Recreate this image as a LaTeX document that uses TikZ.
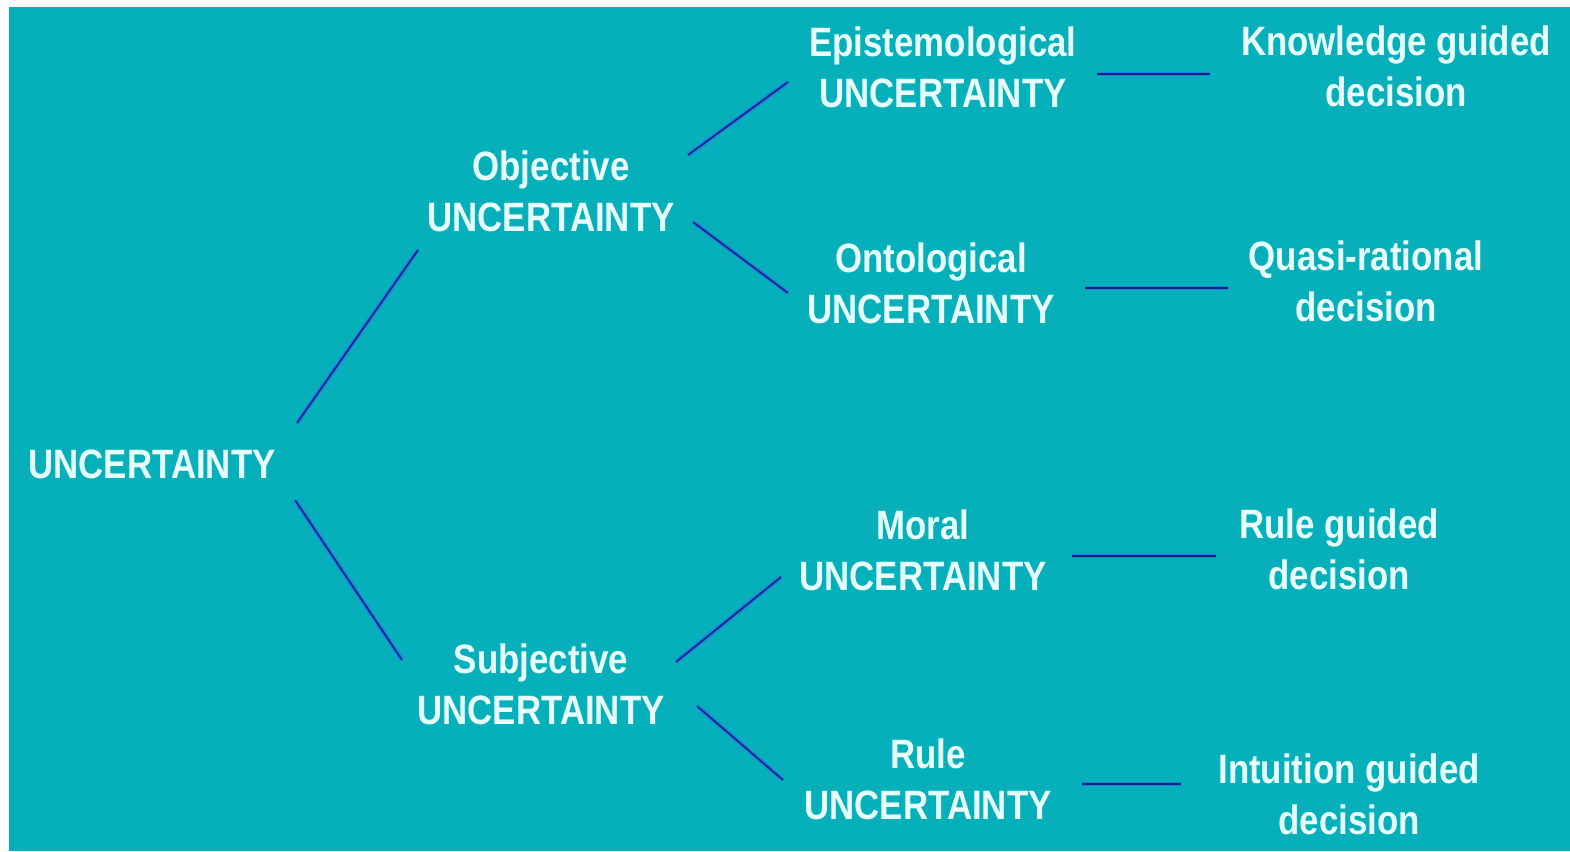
\documentclass[tikz,border=0pt]{standalone}
\usepackage{fontspec}
\newfontfamily\lblfont{Liberation Sans}[FakeStretch=0.85]
\definecolor{panel}{RGB}{5,176,186}
\definecolor{ink}{RGB}{232,255,255}
\definecolor{wirecore}{RGB}{10,40,110}
\definecolor{wireglow}{RGB}{35,125,235}
\tikzset{
  lbl/.style={text=ink, font=\lblfont\bfseries\fontsize{41}{51}\selectfont,
              align=center, inner sep=0pt},
  wire/.style={line width=1.5pt, draw=wirecore,
               preaction={draw=wireglow, line width=4.5pt}}
}
\begin{document}
\begin{tikzpicture}[x=1pt,y=-1pt]
  \useasboundingbox (0,0) rectangle (1570,851);
  \fill[white] (0,0) rectangle (1570,851);
  \fill[panel] (9,7) rectangle (1570,851);

  % root and the two main branches
  \node[lbl] (root) at (152,464) {UNCERTAINTY};
  \node[lbl] (obj)  at (551,191) {Objective\\UNCERTAINTY};
  \node[lbl] (subj) at (541,684) {Subjective\\UNCERTAINTY};

  % kinds of uncertainty
  \node[lbl] (epi) at (943,67)  {Epistemological\\UNCERTAINTY};
  \node[lbl] (ont) at (931,283) {Ontological\\UNCERTAINTY};
  \node[lbl] (mor) at (923,550) {Moral\\UNCERTAINTY};
  \node[lbl] (rul) at (928,779) {Rule\\UNCERTAINTY};

  % matching decision modes
  \node[lbl] (kgd) at (1396,66)  {Knowledge guided\\decision};
  \node[lbl] (qrd) at (1366,281) {Quasi-rational\\decision};
  \node[lbl] (rgd) at (1339,549) {Rule guided\\decision};
  \node[lbl] (igd) at (1349,794) {Intuition guided\\decision};

  % connector end points
  \coordinate (root-up) at (297,423);  \coordinate (obj-in)  at (418,250);
  \coordinate (root-dn) at (295,500);  \coordinate (subj-in) at (402,660);
  \coordinate (obj-up)  at (688,155);  \coordinate (epi-in)  at (788,82);
  \coordinate (obj-dn)  at (693,222);  \coordinate (ont-in)  at (788,293);
  \coordinate (subj-up) at (676,662);  \coordinate (mor-in)  at (781,577);
  \coordinate (subj-dn) at (697,706);  \coordinate (rul-in)  at (783,780);
  \coordinate (epi-out) at (1097,74);  \coordinate (kgd-in)  at (1210,74);
  \coordinate (ont-out) at (1085,288); \coordinate (qrd-in)  at (1228,288);
  \coordinate (mor-out) at (1072,556); \coordinate (rgd-in)  at (1216,556);
  \coordinate (rul-out) at (1082,784); \coordinate (igd-in)  at (1181,784);

  \draw[wire] (root-up) -- (obj-in);
  \draw[wire] (root-dn) -- (subj-in);
  \draw[wire] (obj-up)  -- (epi-in);
  \draw[wire] (obj-dn)  -- (ont-in);
  \draw[wire] (subj-up) -- (mor-in);
  \draw[wire] (subj-dn) -- (rul-in);
  \draw[wire] (epi-out) -- (kgd-in);
  \draw[wire] (ont-out) -- (qrd-in);
  \draw[wire] (mor-out) -- (rgd-in);
  \draw[wire] (rul-out) -- (igd-in);
\end{tikzpicture}
\end{document}
